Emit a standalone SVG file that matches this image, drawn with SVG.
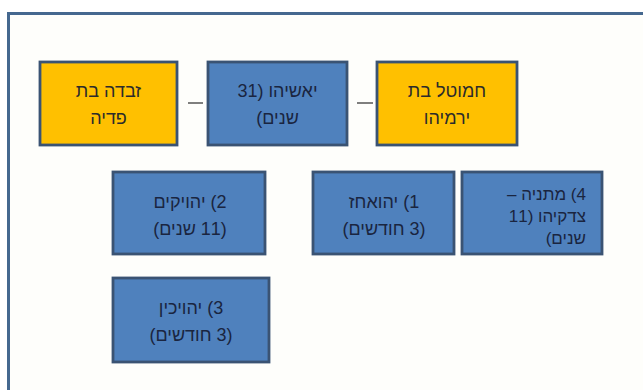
<svg xmlns="http://www.w3.org/2000/svg" width="643" height="390" viewBox="0 0 643 390">
<style>
.box{stroke:#3a5373;stroke-width:2.8}
.blue{fill:#4f81bd}
.orange{fill:#ffc000}
text{font-family:"Liberation Sans",Arial,"DejaVu Sans",sans-serif;font-size:18px;text-anchor:middle;direction:rtl;unicode-bidi:embed}
.tb{fill:#1a2540}
.to{fill:#2b2b2b}
.sm{font-size:17px;text-anchor:start}
.link{stroke:#555;stroke-width:1.5;fill:none}
</style>
<rect x="0" y="0" width="643" height="390" fill="#ffffff"/>
<rect x="8.5" y="13.5" width="660" height="400" fill="#fefefb" stroke="#45688f" stroke-width="3"/>
<g id="connectors">
<line class="link" x1="188" y1="103" x2="203" y2="103"/>
<line class="link" x1="357" y1="103" x2="373" y2="103"/>
</g>
<g id="zevudah">
<rect class="box orange" x="40" y="62" width="137" height="83"/>
<text class="to" x="108.5" y="97">זבדה בת</text>
<text class="to" x="108.5" y="124">פדיה</text>
</g>
<g id="yoshiyahu">
<rect class="box blue" x="208" y="62" width="139" height="83"/>
<text class="tb" x="277.5" y="97">יאשיהו (31</text>
<text class="tb" x="277.5" y="124">שנים)</text>
</g>
<g id="hamutal">
<rect class="box orange" x="377" y="62" width="140" height="83"/>
<text class="to" x="447" y="97">חמוטל בת</text>
<text class="to" x="447" y="124">ירמיהו</text>
</g>
<g id="yehoyakim">
<rect class="box blue" x="113" y="172" width="152" height="82"/>
<text class="tb" x="190" y="208">2) יהויקים</text>
<text class="tb" x="190" y="235">(11 שנים)</text>
</g>
<g id="yehoachaz">
<rect class="box blue" x="313" y="172" width="141" height="82"/>
<text class="tb" x="384" y="208">1) יהואחז</text>
<text class="tb" x="384" y="235">(3 חודשים)</text>
</g>
<g id="matanya">
<rect class="box blue" x="462" y="172" width="140" height="82"/>
<text class="tb sm" x="586" y="200">4) מתניה –</text>
<text class="tb sm" x="586" y="222">צדקיהו (11</text>
<text class="tb sm" x="586" y="244">שנים)</text>
</g>
<g id="yehoyachin">
<rect class="box blue" x="113" y="278" width="156" height="84"/>
<text class="tb" x="191" y="314">3) יהויכין</text>
<text class="tb" x="191" y="341">(3 חודשים)</text>
</g>
</svg>
